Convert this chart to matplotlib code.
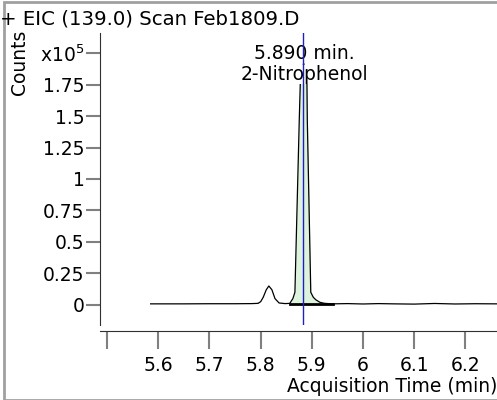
import matplotlib.pyplot as plt
from matplotlib.patches import Rectangle

# retention time (min) and counts (x10^5)
time = [5.585, 5.65, 5.70, 5.75, 5.783, 5.795, 5.800, 5.805, 5.811, 5.816,
        5.822, 5.828, 5.836, 5.848, 5.857, 5.863, 5.867, 5.8755, 5.8775, 5.884,
        5.8905, 5.8912, 5.898, 5.903, 5.908, 5.916, 5.925, 5.94, 5.97, 6.00,
        6.03, 6.06, 6.10, 6.14, 6.18, 6.22, 6.262]
counts = [0.008, 0.008, 0.009, 0.009, 0.010, 0.012, 0.025, 0.06, 0.12, 0.15,
          0.12, 0.05, 0.015, 0.010, 0.012, 0.05, 0.10, 1.47, 1.76, 1.92,
          1.76, 1.47, 0.10, 0.06, 0.04, 0.02, 0.012, 0.008, 0.01, 0.007,
          0.010, 0.008, 0.006, 0.011, 0.007, 0.009, 0.008]

peak_start = 5.857
peak_end = 5.941
rt_marker = 5.883
rt_label = '5.890 min.'
compound = '2-Nitrophenol'
title = '+ EIC (139.0) Scan Feb1809.D'

yticks = [0, 0.25, 0.5, 0.75, 1, 1.25, 1.5, 1.75, 2.0]
ylabels = ['0', '0.25', '0.5', '0.75', '1', '1.25', '1.5', '1.75', 'x10$^5$']
xticks = [5.5, 5.6, 5.7, 5.8, 5.9, 6.0, 6.1, 6.2]
xlabels = ['', '5.6', '5.7', '5.8', '5.9', '6', '6.1', '6.2']

plt.rcParams['font.family'] = ['DejaVu Sans']
fs = 13.5

fig = plt.figure(figsize=(4.97, 4.0), dpi=100)
ax = fig.add_axes([100/497, 75/400, 397/497, 292/400])

# peak fill
pt = [t for t in time if peak_start <= t <= peak_end]
pc = [c for t, c in zip(time, counts) if peak_start <= t <= peak_end]
ax.fill_between(pt, pc, 0.008, color='#ddf3dd', lw=0)
ax.plot(time, counts, color='black', lw=0.9)
ax.plot([peak_start, peak_end], [0.008, 0.008], color='black', lw=2)
ax.axvline(rt_marker, color='#2020c0', lw=1, zorder=5)

box = dict(facecolor='white', edgecolor='none', pad=0)
ax.text(5.886, 1.995, rt_label, ha='center', va='center', fontsize=fs,
        bbox=box, zorder=4)
ax.text(5.886, 1.83, compound, ha='center', va='center', fontsize=fs,
        bbox=box, zorder=4)

ax.set_xlim(5.486, 6.262)
ax.set_ylim(-0.16, 2.16)
ax.set_xticks(xticks)
ax.set_xticklabels(xlabels)
ax.set_yticks(yticks)
ax.set_yticklabels(ylabels)

for s in ['top', 'right']:
    ax.spines[s].set_visible(False)
ax.spines['bottom'].set_position(('outward', 4))
ax.spines['left'].set_color('#303030')
ax.spines['bottom'].set_color('#303030')
ax.tick_params(axis='x', direction='out', length=13, color='#808080',
               width=1.5, labelsize=fs, pad=5)
ax.tick_params(axis='y', direction='out', length=10, color='#808080',
               width=1.5, labelsize=fs, pad=1)

fig.text(20/497, 1 - 62/400, 'Counts', rotation=90, ha='center', va='center', fontsize=fs)
fig.text(0, 1 - 19/400, title, ha='left', va='center', fontsize=14.2)
fig.text(1.0, 1 - 386/400, 'Acquisition Time (min)', ha='right', va='center', fontsize=fs)

fig.patches.append(Rectangle((4/497, 0), 1, 1 - 1.5/400, transform=fig.transFigure,
                             fill=False, edgecolor='#a0a0a0', lw=2))

fig.savefig('out.png', dpi=100)
